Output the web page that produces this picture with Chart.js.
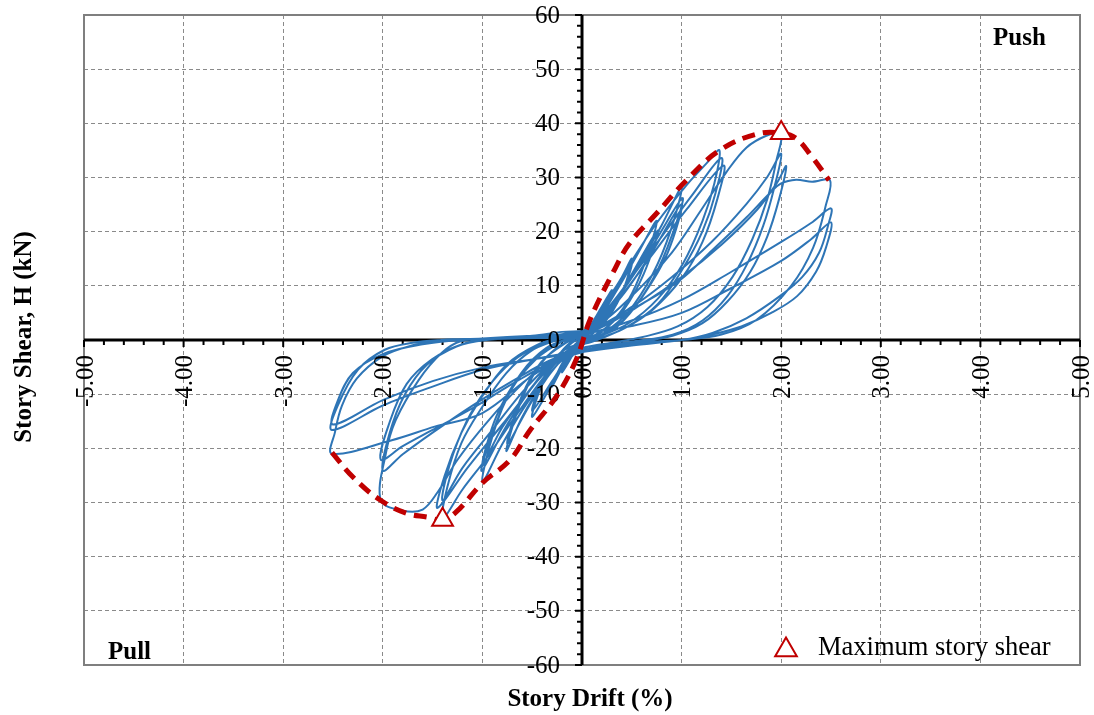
<!DOCTYPE html>
<html>
<head>
<meta charset="utf-8">
<script src="https://cdn.jsdelivr.net/npm/chart.js@4.4.1/dist/chart.umd.min.js"></script>
<style>
  html, body { margin: 0; padding: 0; background: #fff; }
  #wrap { width: 1094px; height: 715px; position: relative; }
</style>
</head>
<body>
<div id="wrap"><canvas id="c"></canvas></div>
<script>
// ---------------- DATA ----------------
// Story drift (%) / story shear (kN) pairs, one array per loading cycle
const cycle01 = [[0,0],[0.05,1.6],[0.1,3],[0.06,1.4],[0,0],[-0.05,-1.5],[-0.1,-3],[-0.06,-1.3],[0,0.3]];
const cycle02 = [[0.1,3],[0.2,6.2],[0.15,3.8],[0.05,0.9],[-0.05,-1.3],[-0.12,-3.6],[-0.2,-6],[-0.15,-3.5],[-0.05,-0.7]];
const cycle03 = [[0.05,1.6],[0.15,4.6],[0.3,9.2],[0.22,5.4],[0.1,1.8],[0,-0.3],[-0.1,-2.6],[-0.2,-5.2],[-0.3,-8.6],[-0.22,-5],[-0.1,-1.4],[0,0.4]];
const cycle04 = [[0.1,2.6],[0.25,7.2],[0.4,11.6],[0.5,15],[0.42,9.5],[0.27,4.3],[0.1,1],[0,-1],[-0.15,-4],[-0.3,-8.2],[-0.5,-14.2],[-0.41,-8.6],[-0.26,-3.6],[-0.1,-0.5],[0.05,1.1]];
const cycle05 = [[0.2,5.2],[0.35,9.6],[0.5,14.1],[0.39,8.2],[0.2,3],[0.05,0.3],[-0.1,-2],[-0.3,-7.6],[-0.5,-13.1],[-0.39,-7.1],[-0.2,-2],[-0.05,0.6]];
const cycle06 = [[0.15,3.6],[0.35,9.2],[0.55,15.6],[0.75,22],[0.63,14.2],[0.46,7.2],[0.26,2.6],[0.05,0],[-0.15,-2.6],[-0.4,-8.2],[-0.6,-14.2],[-0.76,-20.5],[-0.63,-12.2],[-0.46,-5.6],[-0.25,-1.4],[0,1]];
const cycle07 = [[0.2,3.6],[0.45,10.6],[0.76,20.2],[0.62,12.2],[0.42,5.6],[0.2,1.5],[0,-0.8],[-0.25,-4.6],[-0.5,-11.2],[-0.75,-19.2],[-0.61,-10.6],[-0.41,-4.1],[-0.15,-0.4],[0.05,1.3]];
const cycle08 = [[0.3,6.2],[0.55,13.2],[0.8,21.2],[1.0,28.2],[0.89,20.2],[0.71,12.2],[0.46,5.1],[0.2,1],[0,-1],[-0.25,-4.6],[-0.55,-11.6],[-0.8,-19.2],[-1.0,-26.2],[-0.89,-17.2],[-0.71,-9.2],[-0.46,-3.5],[-0.2,-0.3],[0.05,1.5]];
const cycle09 = [[0.35,7.6],[0.7,17.2],[1.01,26.2],[0.86,17.2],[0.66,9.6],[0.41,3.6],[0.15,0.5],[-0.1,-1.5],[-0.45,-7.6],[-0.75,-15.6],[-1.01,-24.2],[-0.86,-15.2],[-0.66,-7.6],[-0.41,-2.5],[-0.1,0.6],[0.1,2]];
const cycle10 = [[0.4,8.1],[0.7,16.1],[1.0,25.1],[0.86,16.1],[0.61,8.1],[0.36,2.6],[0.1,0],[-0.2,-2.1],[-0.5,-8.6],[-0.8,-16.1],[-1.0,-23.1],[-0.86,-14.1],[-0.61,-6.1],[-0.36,-1.5],[-0.05,1]];
const cycle11 = [[0.1,3],[0.3,8.6],[0.5,14.6],[0.75,21.6],[1.05,28.6],[1.25,32.6],[1.38,35],[1.33,29],[1.21,22],[1.01,14],[0.76,7.6],[0.46,3],[0.15,0.5],[-0.1,-1.5],[-0.35,-6.1],[-0.65,-13.6],[-0.95,-21.6],[-1.2,-27.6],[-1.4,-33],[-1.35,-27],[-1.21,-19],[-1.01,-12.6],[-0.76,-6.1],[-0.51,-2],[-0.25,0],[0,1.5]];
const cycle12 = [[0.2,4.6],[0.5,11.6],[0.8,19.1],[1.1,26.6],[1.4,33.6],[1.34,27.1],[1.21,20.1],[1.01,13.1],[0.76,6.6],[0.46,2.5],[0.15,0],[-0.15,-2],[-0.45,-7.6],[-0.8,-15.6],[-1.15,-23.6],[-1.45,-31],[-1.38,-25.1],[-1.21,-17.1],[-1.01,-10.6],[-0.76,-4.6],[-0.46,-1],[-0.15,0.8],[0.1,2]];
const cycle13 = [[0.35,7.1],[0.7,15.6],[1.05,24.1],[1.42,32.2],[1.36,26.1],[1.21,18.1],[1.01,11.6],[0.71,5.6],[0.41,2],[0.1,-0.2],[-0.2,-2.6],[-0.55,-8.6],[-0.9,-16.6],[-1.2,-23.6],[-1.4,-29.6],[-1.33,-23.1],[-1.16,-15.1],[-0.96,-9.1],[-0.71,-4.1],[-0.41,-0.8],[-0.1,1]];
const cycle14 = [[0.15,2.6],[0.5,8.1],[0.9,16.1],[1.2,24.1],[1.45,31],[1.65,35.5],[1.85,37.7],[2.0,38.2],[1.95,33],[1.86,26],[1.71,18.6],[1.51,11.6],[1.26,6.1],[0.96,2.5],[0.6,0.5],[0.3,-0.5],[0,-1.5],[-0.3,-3.6],[-0.6,-8.1],[-0.95,-15.1],[-1.25,-22.1],[-1.45,-28.1],[-1.6,-31.3],[-1.8,-31.5],[-2.02,-29.6],[-1.97,-21],[-1.87,-14.8],[-1.64,-7.4],[-1.41,-2.4],[-1.21,-0.2],[-0.9,0.3],[-0.5,0.8],[-0.2,1.5]];
const cycle15 = [[0.1,2],[0.5,6.1],[0.9,11.6],[1.3,18.1],[1.65,25.1],[1.86,30.1],[2.0,34.4],[1.93,28.1],[1.82,21.1],[1.66,14.1],[1.46,8.1],[1.21,3.6],[0.91,1],[0.5,-0.3],[0.1,-1.5],[-0.3,-3.6],[-0.7,-7.6],[-1.1,-12.1],[-1.5,-17.1],[-1.8,-21.1],[-2.0,-24.1],[-1.93,-17.1],[-1.78,-10.1],[-1.56,-4.6],[-1.26,-1.2],[-0.96,0],[-0.5,0.5],[-0.15,1.2]];
const cycle16 = [[0.2,2.5],[0.6,6.6],[1.0,11.6],[1.4,17.6],[1.76,24.1],[1.96,29.1],[2.05,32.1],[1.98,26.1],[1.86,19.1],[1.69,12.6],[1.46,7.1],[1.21,3.1],[0.91,0.8],[0.51,-0.5],[0.1,-1.8],[-0.3,-4.1],[-0.7,-8.1],[-1.1,-12.6],[-1.5,-16.6],[-1.8,-19.6],[-2.02,-22.1],[-1.93,-15.1],[-1.76,-8.1],[-1.51,-3.6],[-1.21,-0.8],[-0.91,0.2],[-0.5,0.6],[-0.2,1]];
const cycle17 = [[0.1,1.6],[0.5,5.6],[0.98,11],[1.31,16.6],[1.65,22.6],[1.88,27],[2.0,28.9],[2.15,29.6],[2.31,29.2],[2.49,29.5],[2.45,25],[2.32,17],[2.1,10],[1.75,3.7],[1.4,1],[1.0,0],[0.5,-0.5],[0,-1.6],[-0.5,-6.6],[-1.0,-13.5],[-1.48,-16],[-1.91,-18.5],[-2.51,-21],[-2.48,-17],[-2.41,-12.1],[-2.26,-7.1],[-2.01,-3.1],[-1.71,-1],[-1.41,0],[-1.0,0.2],[-0.5,0.5],[0,1]];
const cycle18 = [[0.5,3.6],[1.0,7.4],[1.5,12.6],[2.0,18.1],[2.3,21.6],[2.5,24.3],[2.47,21.1],[2.38,16.1],[2.21,11.6],[1.98,8],[1.65,4],[1.31,1.3],[1.0,0],[0.5,-0.8],[0,-2],[-0.5,-3.6],[-1.0,-5.5],[-1.5,-8.6],[-2.0,-12.1],[-2.51,-16.6],[-2.45,-12],[-2.25,-5.5],[-1.98,-1.8],[-1.7,-0.5],[-1.41,0],[-1.0,0.3],[-0.5,0.8],[0,1.2]];
const cycle19 = [[0.5,2.6],[1.0,5],[1.5,9.6],[2.0,14.6],[2.3,18.6],[2.5,21.7],[2.45,17.1],[2.35,12.6],[2.16,8.1],[1.9,5],[1.6,2.5],[1.3,1],[1.0,0],[0.5,-1],[0,-2.2],[-0.5,-3.6],[-1.0,-5.1],[-1.5,-7.6],[-2.0,-11.1],[-2.5,-15.6],[-2.45,-11.1],[-2.3,-6.1],[-2.0,-2.6],[-1.6,-0.8],[-1.2,0],[-0.6,0.3],[0,0.5]];

// Envelope (red dashed) - drift (%) and shear (kN)
const envelopeDrift = [-2.51,-2.30,-2.03,-1.76,-1.55,-1.40,-1.26,-1.00,-0.72,-0.52,-0.26,-0.06,0.08,0.31,0.48,0.75,1.05,1.38,1.75,2.00,2.15,2.31,2.48];
const envelopeShear = [-20.8,-25.3,-29.5,-32.0,-32.7,-33.2,-31.7,-26.4,-22.1,-16.6,-10.5,-3.7,3.7,12.4,17.9,23.4,29.5,35.0,38.0,38.2,37.2,33.8,29.5];

// Maximum story shear markers
const peakDrift = [2.00, -1.40];
const peakShear = [38.2, -33.2];

// Axis ticks
const xTickValues = [-5,-4,-3,-2,-1,0,1,2,3,4,5];
const xTickLabels = ['-5.00','-4.00','-3.00','-2.00','-1.00','0.00','1.00','2.00','3.00','4.00','5.00'];
const yTickValues = [60,50,40,30,20,10,0,-10,-20,-30,-40,-50,-60];
const yTickLabels = ['60','50','40','30','20','10','0','-10','-20','-30','-40','-50','-60'];

const xTitle = 'Story Drift (%)';
const yTitle = 'Story Shear, H (kN)';
const pushLabel = 'Push';
const pullLabel = 'Pull';
const legendLabel = 'Maximum story shear';

// ---------------- build ----------------
const cycles = [cycle01,cycle02,cycle03,cycle04,cycle05,cycle06,cycle07,cycle08,cycle09,cycle10,
                cycle11,cycle12,cycle13,cycle14,cycle15,cycle16,cycle17,cycle18,cycle19];
const hysteresis = [].concat(...cycles).map(p => ({x: p[0], y: p[1]}));
const envelope = envelopeDrift.map((d, i) => ({x: d, y: envelopeShear[i]}));
const peaks = peakDrift.map((d, i) => ({x: d, y: peakShear[i]}));

const SERIF = "'Liberation Serif', 'Times New Roman', serif";
const RED = '#C00000';
const BLUE = '#2E75B6';

const overlay = {
  id: 'overlay',
  beforeDatasetsDraw(chart) {
    const {ctx, chartArea: a, scales: {x, y}} = chart;
    const x0 = x.getPixelForValue(0), y0 = y.getPixelForValue(0);
    ctx.save();
    ctx.strokeStyle = '#7f7f7f';
    ctx.lineWidth = 2;
    ctx.strokeRect(a.left, a.top, a.right - a.left, a.bottom - a.top);
    ctx.strokeStyle = '#000';
    ctx.lineWidth = 3;
    ctx.beginPath();
    ctx.moveTo(a.left, y0); ctx.lineTo(a.right, y0);
    ctx.moveTo(x0, a.top); ctx.lineTo(x0, a.bottom);
    ctx.stroke();
    ctx.lineWidth = 2;
    ctx.beginPath();
    for (let i = 0; i <= 50; i++) {
      const px = x.getPixelForValue(-5 + i * 0.2);
      const len = (i % 5 === 0) ? 7 : 5;
      ctx.moveTo(px, y0); ctx.lineTo(px, y0 + len);
    }
    for (let i = 0; i <= 60; i++) {
      const py = y.getPixelForValue(-60 + i * 2);
      const len = (i % 5 === 0) ? 7 : 5;
      ctx.moveTo(x0, py); ctx.lineTo(x0 - len, py);
    }
    ctx.stroke();
    ctx.restore();
  },
  afterDatasetDraw(chart, args) {
    if (args.index !== 0) return;
    const {ctx, scales: {x, y}} = chart;
    const x0 = x.getPixelForValue(0), y0 = y.getPixelForValue(0);
    ctx.save();
    ctx.fillStyle = '#000';
    ctx.font = '25px ' + SERIF;
    ctx.textAlign = 'right';
    ctx.textBaseline = 'middle';
    yTickValues.forEach((v, i) => ctx.fillText(yTickLabels[i], x0 - 22, y.getPixelForValue(v) + 1));
    xTickValues.forEach((v, i) => {
      ctx.save();
      ctx.translate(x.getPixelForValue(v) + 2, y0 + 15);
      ctx.rotate(-Math.PI / 2);
      ctx.textAlign = 'right';
      ctx.textBaseline = 'middle';
      ctx.fillText(xTickLabels[i], 0, 0);
      ctx.restore();
    });
    ctx.restore();
  },
  afterDraw(chart) {
    const {ctx, chartArea: a} = chart;
    ctx.save();
    ctx.fillStyle = '#000';
    ctx.font = 'bold 25px ' + SERIF;
    ctx.textAlign = 'center';
    ctx.textBaseline = 'middle';
    ctx.fillText(xTitle, 590, 700);
    ctx.save();
    ctx.translate(25, (a.top + a.bottom) / 2 - 3);
    ctx.rotate(-Math.PI / 2);
    ctx.fillText(yTitle, 0, 0);
    ctx.restore();
    ctx.textAlign = 'left';
    ctx.textBaseline = 'alphabetic';
    ctx.fillText(pushLabel, a.right - 87, a.top + 30);
    ctx.fillText(pullLabel, a.left + 24, a.bottom - 6);
    // legend
    const cx = 786, cy = 650, r = 12.5;
    ctx.beginPath();
    ctx.moveTo(cx, cy - r);
    ctx.lineTo(cx + r * Math.sin(2 * Math.PI / 3), cy - r * Math.cos(2 * Math.PI / 3));
    ctx.lineTo(cx + r * Math.sin(4 * Math.PI / 3), cy - r * Math.cos(4 * Math.PI / 3));
    ctx.closePath();
    ctx.fillStyle = '#fff';
    ctx.fill();
    ctx.strokeStyle = RED;
    ctx.lineWidth = 2;
    ctx.stroke();
    ctx.fillStyle = '#000';
    ctx.font = '26.5px ' + SERIF;
    ctx.fillText(legendLabel, 818, 655);
    ctx.restore();
  }
};

new Chart(document.getElementById('c'), {
  type: 'scatter',
  data: {
    datasets: [
      { label: 'Hysteresis', data: hysteresis, showLine: true, borderColor: BLUE, borderWidth: 2,
        pointRadius: 0, tension: 0.35, order: 2 },
      { label: 'Envelope', data: envelope, showLine: true, borderColor: RED, borderWidth: 5,
        borderDash: [13, 8], pointRadius: 0, tension: 0.4, order: 1 },
      { label: legendLabel, data: peaks, showLine: false, pointStyle: 'triangle', pointRadius: 12,
        pointBorderWidth: 2, borderColor: RED, backgroundColor: '#fff',
        pointBorderColor: RED, pointBackgroundColor: '#fff', order: 0 }
    ]
  },
  options: {
    responsive: true,
    maintainAspectRatio: false,
    animation: false,
    devicePixelRatio: 1,
    layout: { padding: { left: 84, right: 13, top: 15, bottom: 50 } },
    plugins: { legend: { display: false }, tooltip: { enabled: false } },
    scales: {
      x: {
        type: 'linear', min: -5, max: 5,
        ticks: { display: false, stepSize: 1 },
        grid: { color: '#8a8a8a', lineWidth: 1, drawTicks: false },
        border: { display: false, dash: [4, 3] }
      },
      y: {
        type: 'linear', min: -60, max: 60,
        ticks: { display: false, stepSize: 10 },
        grid: { color: '#8a8a8a', lineWidth: 1, drawTicks: false },
        border: { display: false, dash: [4, 3] }
      }
    }
  },
  plugins: [overlay]
});
</script>
</body>
</html>
